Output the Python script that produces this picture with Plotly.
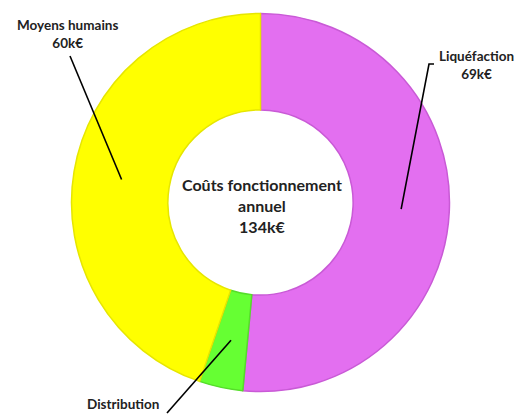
import math
import plotly.graph_objects as go

labels = ["Liquéfaction", "Distribution", "Moyens humains"]
values = [69, 5, 60]
value_text = ["69k€", "", "60k€"]
colors = ["#E36FF0", "#66FF33", "#FFFF00"]
line_colors = ["#C95AD6", "#55DD2A", "#E6E600"]
center_lines = ["Coûts fonctionnement", "annuel", "134k€"]

W, H = 517, 414
CX, CY, R = 260.5, 202.5, 189.0
HOLE = 0.49

fig = go.Figure(go.Pie(
    labels=labels, values=values, sort=False, direction="clockwise", rotation=0,
    hole=HOLE, textinfo="none", hoverinfo="label+value",
    marker=dict(colors=colors, line=dict(color=line_colors, width=1.5)),
    domain=dict(x=[(CX - R) / W, (CX + R) / W], y=[1 - (CY + R) / H, 1 - (CY - R) / H]),
    showlegend=False,
))

def px(x, y):
    return x / W, 1 - y / H

# anchor points inside slices, computed from the data (mid-angle of each slice)
total = sum(values)
anchors = []
acc = 0
for v in values:
    mid = (acc + v / 2) / total * 2 * math.pi
    acc += v
    rr = R * (1 + HOLE) / 2
    anchors.append((CX + rr * math.sin(mid), CY - rr * math.cos(mid)))

tails = [(429, 64), (167, 413), (70, 56)]
shapes = []
for i, (ax, ay) in enumerate(anchors):
    tx, ty = tails[i]
    x0, y0 = px(tx, ty)
    x1, y1 = px(ax, ay)
    if i == 0:
        hx, hy = px(434, 64)
        path = f"M {hx} {hy} L {x0} {y0} L {x1} {y1}"
    else:
        path = f"M {x0} {y0} L {x1} {y1}"
    shapes.append(dict(type="path", xref="paper", yref="paper", path=path,
                       line=dict(color="black", width=1.6)))

font = dict(family="Lato, 'Open Sans', sans-serif", size=13.5, color="#222222")
label_pos = [(476, 65), (123, 404), (67, 34)]
annotations = []
for i, (lx, ly) in enumerate(label_pos):
    t = f"<b>{labels[i]}</b>"
    if value_text[i]:
        t += f"<br><b>{value_text[i]}</b>"
    x, y = px(lx, ly)
    annotations.append(dict(x=x, y=y, xref="paper", yref="paper", text=t,
                            showarrow=False, font=font, align="center",
                            xanchor="center", yanchor="middle"))

cx, cy = px(262, 205)
annotations.append(dict(x=cx, y=cy, xref="paper", yref="paper",
                        text="<br>".join(f"<b>{s}</b>" for s in center_lines),
                        showarrow=False, align="center",
                        font=dict(family="Lato, 'Open Sans', sans-serif", size=16, color="#222222")))

fig.update_layout(width=W, height=H, margin=dict(l=0, r=0, t=0, b=0),
                  paper_bgcolor="white", plot_bgcolor="white",
                  shapes=shapes, annotations=annotations)
fig.write_html("out.html", config={"displayModeBar": False},
               post_script="document.body.style.margin='0';")
